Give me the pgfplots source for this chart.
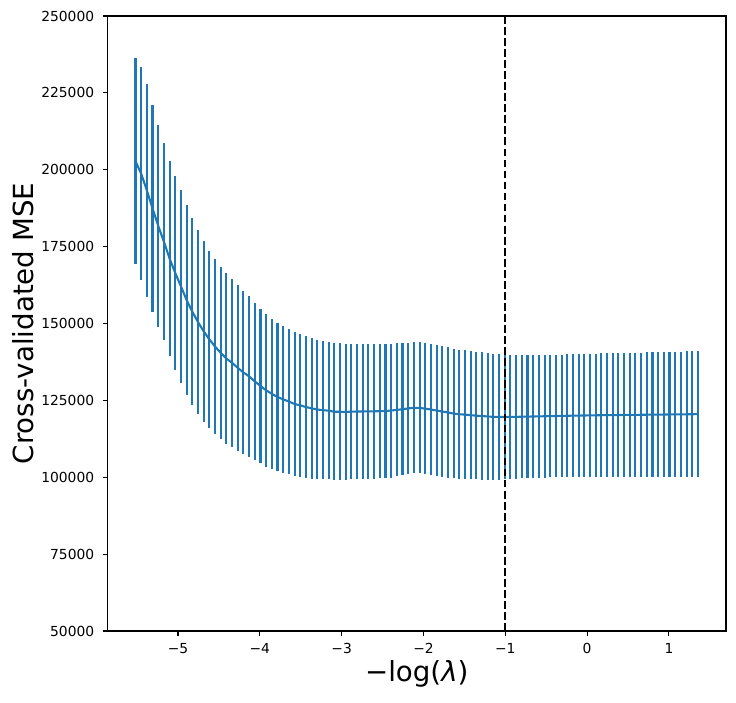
\documentclass[border=0pt]{standalone}
\usepackage{fontspec}
\setmainfont{DejaVu Sans}
\usepackage{pgfplots}
\pgfplotsset{compat=1.18}
\usepackage{pgfplotstable}
\definecolor{C0}{HTML}{1F77B4}
\pgfplotstableread{
x y e
-5.5200 202792 33442
-5.4506 198727 34580
-5.3811 193307 34580
-5.3117 187453 33604
-5.2422 181762 32791
-5.1728 176613 31978
-5.1033 171139 31707
-5.0339 166424 31545
-4.9644 162088 31328
-4.8950 157643 30894
-4.8256 153849 30352
-4.7561 150489 29919
-4.6867 147454 29377
-4.6172 144852 28726
-4.5478 142521 28455
-4.4783 140462 27913
-4.4089 138619 27805
-4.3394 137210 27263
-4.2700 135584 26938
-4.2006 134066 26504
-4.1311 132820 26125
-4.0617 131140 25529
-3.9922 129731 24987
-3.9228 128267 24824
-3.8533 127129 24336
-3.7839 126099 23957
-3.7144 125340 23848
-3.6450 124636 23578
-3.5756 123823 23415
-3.5061 123389 23198
-3.4367 122847 23090
-3.3672 122414 22873
-3.2978 122034 22602
-3.2283 121817 22493
-3.1589 121655 22331
-3.0894 121300 22330
-3.0200 121300 22222
-2.9506 121250 22114
-2.8811 121329 22005
-2.8117 121383 21951
-2.7422 121400 21951
-2.6728 121437 21897
-2.6033 121450 21897
-2.5339 121491 21842
-2.4644 121546 21788
-2.3950 121700 21788
-2.3256 121925 21626
-2.2561 122100 21517
-2.1867 122400 21409
-2.1172 122576 21300
-2.0478 122576 21300
-1.9783 122305 21246
-1.9089 122034 21300
-1.8394 121708 21300
-1.7700 121383 21300
-1.7006 121058 21192
-1.6311 120700 20921
-1.5617 120480 20921
-1.4922 120380 20867
-1.4228 120191 20758
-1.3533 120028 20704
-1.2839 119920 20704
-1.2144 119760 20596
-1.1450 119650 20488
-1.0756 119600 20433
-1.0061 119595 20271
-0.9367 119620 20150
-0.8672 119650 20100
-0.7978 119690 20050
-0.7283 119730 20000
-0.6589 119760 19980
-0.5894 119800 19950
-0.5200 119840 19930
-0.4506 119880 19930
-0.3811 119920 19940
-0.3117 119960 19950
-0.2422 120000 19970
-0.1728 120030 19990
-0.1033 120060 20010
-0.0339 120090 20030
0.0356 120120 20060
0.1050 120150 20080
0.1744 120180 20100
0.2439 120200 20120
0.3133 120220 20140
0.3828 120240 20160
0.4522 120260 20180
0.5217 120280 20210
0.5911 120300 20230
0.6606 120320 20250
0.7300 120340 20270
0.7994 120360 20290
0.8689 120380 20310
0.9383 120400 20330
1.0078 120420 20350
1.0772 120440 20380
1.1467 120460 20400
1.2161 120480 20420
1.2856 120500 20430
1.3550 120520 20440
}\cvdata
\begin{document}
\begin{tikzpicture}
\begin{axis}[
  scale only axis, width=445.3bp, height=442.8bp,
  xmin=-5.862, xmax=1.698, ymin=50000, ymax=250000,
  xtick={-5,-4,-3,-2,-1,0,1},
  xticklabels={−5,−4,−3,−2,−1,0,1},
  ytick={50000,75000,100000,125000,150000,175000,200000,225000,250000},
  yticklabels={50000,75000,100000,125000,150000,175000,200000,225000,250000},
  scaled y ticks=false,
  tick align=outside, major tick length=3.5bp,
  tick style={black, line width=0.8bp},
  xtick pos=bottom, ytick pos=left,
  axis line style={line width=0.8bp},
  ticklabel style={font=\fontsize{10}{12}\selectfont},
  xticklabel style={anchor=north, inner sep=0pt, yshift=-5.1bp},
  yticklabel style={anchor=east, inner sep=0pt, xshift=-5.9bp},
  xlabel={−log(\textit{λ})},
  ylabel={Cross-validated MSE},
  label style={font=\fontsize{20}{24}\selectfont},
  xlabel style={at={(axis description cs:0.5,-0.070)}, anchor=center},
  ylabel style={at={(axis description cs:-0.136,0.5)}, anchor=center},
]
\addplot[C0, line width=1.5bp, no marks,
  error bars/.cd, y dir=both, y explicit, error mark=none,
  error bar style={line width=1.5bp, C0}]
  table[x=x, y=y, y error=e] {\cvdata};
\addplot[black, line width=1.5bp, dash pattern=on 5.55bp off 2.4bp]
  coordinates {(-1.0061,50000) (-1.0061,250000)};
\end{axis}
\path (current axis.south west) ++(-77.4bp,-51.12bp) coordinate (bl);
\path (current axis.north east) ++(7.2bp,11.52bp) coordinate (tr);
\pgfresetboundingbox
\useasboundingbox (bl) rectangle (tr);
\end{tikzpicture}
\end{document}
